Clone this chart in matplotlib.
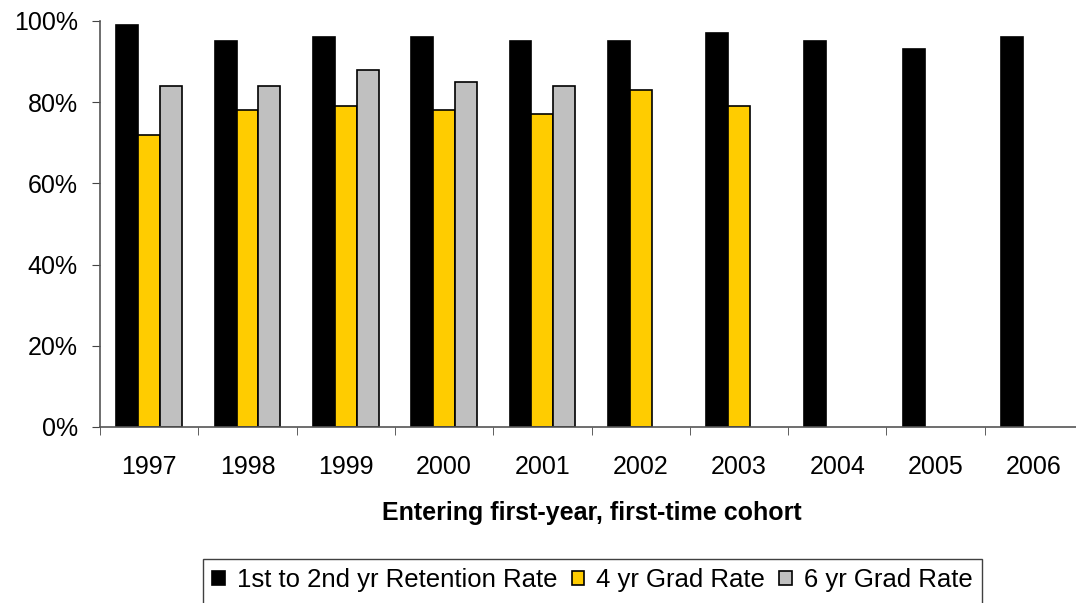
import matplotlib
matplotlib.use("Agg")
import matplotlib.pyplot as plt
from matplotlib.patches import Rectangle
import numpy as np

plt.rcParams['font.family'] = ['Liberation Sans', 'DejaVu Sans']

years = ['1997', '1998', '1999', '2000', '2001', '2002', '2003', '2004', '2005', '2006']
retention = [99, 95, 96, 96, 95, 95, 97, 95, 93, 96]
grad4 = [72, 78, 79, 78, 77, 83, 79, np.nan, np.nan, np.nan]
grad6 = [84, 84, 88, 85, 84, np.nan, np.nan, np.nan, np.nan, np.nan]
series_names = ['1st to 2nd yr Retention Rate', '4 yr Grad Rate', '6 yr Grad Rate']
yticks = [0, 20, 40, 60, 80, 100]

W, H = 1076, 603
fig = plt.figure(figsize=(W / 100, H / 100), dpi=100)
ax = fig.add_axes([100 / W, 1 - 427 / H, 983 / W, 406 / H])

x = np.arange(len(years))
w = 1 / 4.5
ax.bar(x - w, retention, w, color='black', edgecolor='black', linewidth=1.2, label=series_names[0])
ax.bar(x, grad4, w, color='#FFCC00', edgecolor='black', linewidth=1.2, label=series_names[1])
ax.bar(x + w, grad6, w, color='#C0C0C0', edgecolor='black', linewidth=1.2, label=series_names[2])

ax.set_xlim(-0.5, len(years) - 0.5)
ax.set_ylim(0, 100)
ax.set_yticks(yticks)
ax.set_yticklabels([f'{v}%' for v in yticks])
ax.set_xticks(x)
ax.set_xticklabels(years)
ax.set_xticks(np.arange(-0.5, len(years) + 0.5, 1), minor=True)
ax.tick_params(axis='x', which='major', length=0, pad=20, labelsize=18)
ax.tick_params(axis='x', which='minor', length=6, direction='out', color='#444444')
ax.tick_params(axis='y', length=6, direction='out', pad=10, labelsize=18, color='#444444')

for s in ['top', 'right']:
    ax.spines[s].set_visible(False)
for s in ['left', 'bottom']:
    ax.spines[s].set_color('#555555')
    ax.spines[s].set_linewidth(1.2)

ax.set_xlabel('Entering first-year, first-time cohort', fontsize=18, fontweight='bold', labelpad=16)

handles, labels = ax.get_legend_handles_labels()
leg = fig.legend(handles, labels, loc='upper left', bbox_to_anchor=(203 / W, 1 - 559 / H),
                 ncol=3, fontsize=18.5, frameon=False,
                 handlelength=0.5, handleheight=0.5, handletextpad=0.47, columnspacing=0.55,
                 borderpad=0.35, borderaxespad=0)

# legend frame, whose lower edge lies below the figure edge as in the reference
fig.canvas.draw()
bb = leg.get_window_extent().transformed(fig.transFigure.inverted())
frame = Rectangle((bb.x0, -0.05), bb.width, bb.y1 + 0.05, transform=fig.transFigure,
                  facecolor='none', edgecolor='#404040', linewidth=1.0, clip_on=False)
fig.add_artist(frame)

fig.savefig('out.png', dpi=100)
